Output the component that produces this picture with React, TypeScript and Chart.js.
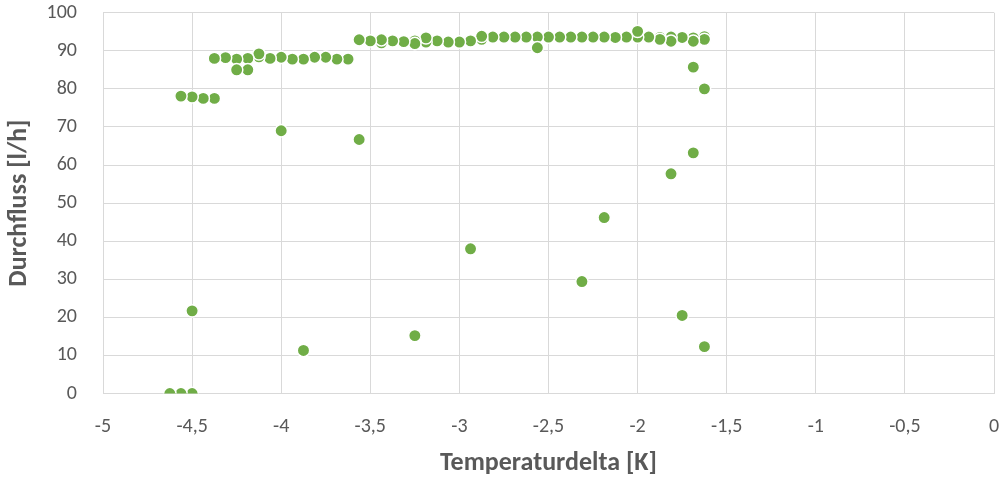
import React, { useEffect, useRef } from "react";
import { Chart, registerables } from "chart.js";

Chart.register(...registerables);

// Temperaturdelta [K] and Durchfluss [l/h]
const xValues: number[] = [
  -1.625, -1.625, -1.625, -1.625,
  -1.6875, -1.6875, -1.6875, -1.6875,
  -1.75, -1.75,
  -1.8125, -1.8125, -1.8125,
  -1.875, -1.875,
  -1.9375,
  -2.0, -2.0,
  -2.0625, -2.125,
  -2.1875, -2.1875,
  -2.25,
  -2.3125, -2.3125,
  -2.375, -2.4375, -2.5,
  -2.5625, -2.5625,
  -2.625, -2.6875, -2.75, -2.8125,
  -2.875, -2.875,
  -2.9375, -2.9375,
  -3.0, -3.0625, -3.125,
  -3.1875, -3.1875,
  -3.25, -3.25, -3.25,
  -3.3125, -3.375,
  -3.4375, -3.4375,
  -3.5,
  -3.5625, -3.5625,
  -3.625, -3.6875, -3.75, -3.8125,
  -3.875, -3.875,
  -3.9375,
  -4.0, -4.0,
  -4.0625,
  -4.125, -4.125,
  -4.1875, -4.1875,
  -4.25, -4.25,
  -4.3125,
  -4.375, -4.375,
  -4.4375,
  -4.5, -4.5, -4.5,
  -4.5625, -4.5625,
  -4.625,
];

const yValues: number[] = [
  93.7, 80.0, 12.3, 93.0,
  93.4, 92.5, 85.7, 63.2,
  93.5, 20.5,
  93.6, 92.5, 57.7,
  93.5, 93.0,
  93.6,
  93.6, 95.1,
  93.6, 93.5,
  93.6, 46.2,
  93.6,
  93.6, 29.4,
  93.6, 93.6, 93.6,
  93.6, 90.8,
  93.6, 93.6, 93.6, 93.6,
  93.0, 93.8,
  92.6, 38.0,
  92.3, 92.3, 92.6,
  92.3, 93.4,
  92.6, 91.9, 15.2,
  92.4, 92.6,
  92.1, 92.9,
  92.6,
  92.9, 66.7,
  87.8, 87.8, 88.3, 88.3,
  87.8, 11.3,
  87.8,
  88.3, 69.0,
  88.0,
  88.4, 89.2,
  88.0, 85.0,
  87.8, 85.0,
  88.2,
  88.0, 77.5,
  77.5,
  77.9, 21.7, 0,
  78.1, 0,
  0,
];

const xMin = -5;
const xMax = 0;
const xStep = 0.5;
const yMin = 0;
const yMax = 100;
const yStep = 10;

const xTitle = "Temperaturdelta [K]";
const yTitle = "Durchfluss [l/h]";

const FONT = "Carlito, Lato, 'Open Sans', sans-serif";

export default function App() {
  const canvasRef = useRef<HTMLCanvasElement | null>(null);

  useEffect(() => {
    document.body.style.margin = "0";
    const canvas = canvasRef.current;
    if (!canvas) return;
    const points = xValues.map((x, i) => ({ x, y: yValues[i] }));
    const fmt = (v: number | string) => String(v).replace(".", ",");
    const chart = new Chart(canvas, {
      type: "scatter",
      data: {
        datasets: [
          {
            data: points,
            backgroundColor: "#70AD47",
            borderColor: "#FFFFFF",
            borderWidth: 1.5,
            pointRadius: 6.2,
            pointHoverRadius: 6.2,
          },
        ],
      },
      options: {
        animation: false,
        responsive: false,
        maintainAspectRatio: false,
        layout: { padding: { top: 12.7, right: 9, left: 0, bottom: 0 } },
        plugins: {
          legend: { display: false },
          tooltip: { enabled: false },
        },
        scales: {
          x: {
            type: "linear",
            min: xMin,
            max: xMax,
            afterFit: (scale: any) => {
              scale.height = 88.5;
              scale.paddingLeft = 0;
              scale.paddingRight = 0;
              scale.paddingTop = 0;
              scale.paddingBottom = 0;
            },
            ticks: {
              stepSize: xStep,
              color: "#595959",
              font: { family: FONT, size: 20 },
              padding: 21,
              maxRotation: 0,
              callback: (v) => fmt(v),
            },
            grid: { color: "#D9D9D9", lineWidth: 1, drawTicks: false },
            border: { color: "#D9D9D9" },
            title: {
              display: true,
              text: xTitle,
              color: "#595959",
              font: { family: FONT, size: 26, weight: "bold" },
              padding: { top: 0, bottom: 3 },
            },
          },
          y: {
            type: "linear",
            min: yMin,
            max: yMax,
            afterFit: (scale: any) => {
              scale.width = 103;
              scale.paddingLeft = 0;
              scale.paddingRight = 0;
              scale.paddingTop = 0;
              scale.paddingBottom = 0;
            },
            ticks: {
              stepSize: yStep,
              color: "#595959",
              font: { family: FONT, size: 20 },
              padding: 26,
              callback: (v) => fmt(v),
            },
            grid: { color: "#D9D9D9", lineWidth: 1, drawTicks: false },
            border: { color: "#D9D9D9" },
            title: {
              display: true,
              text: yTitle,
              color: "#595959",
              font: { family: FONT, size: 26, weight: "bold" },
              padding: { top: 4, bottom: 0 },
            },
          },
        },
      },
    });
    return () => chart.destroy();
  }, []);

  return (
    <div style={{ position: "relative", width: 1003, height: 482 }}>
      <canvas ref={canvasRef} width={1003} height={482} style={{ display: "block" }} />
    </div>
  );
}
